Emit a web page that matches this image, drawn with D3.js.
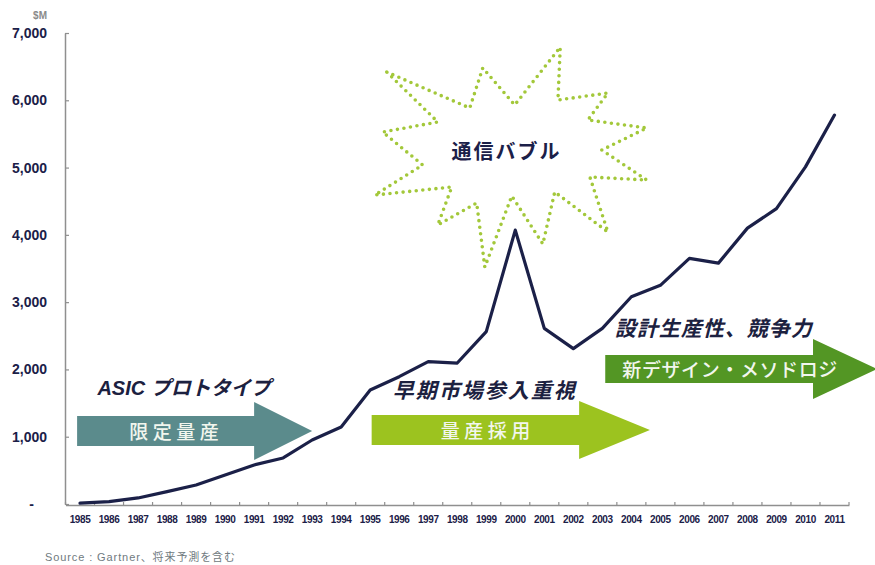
<!DOCTYPE html>
<html>
<head>
<meta charset="utf-8">
<script src="https://cdn.jsdelivr.net/npm/d3@7"></script>
<style>
  html, body { margin: 0; padding: 0; background: #ffffff; }
  svg { display: block; }
  text { font-family: "Liberation Sans", Arial, "Noto Sans CJK JP", sans-serif; }
  .jp { font-family: "Liberation Sans", Arial, "Noto Sans CJK JP", sans-serif; }
</style>
</head>
<body>
<svg id="chart" width="875" height="565"></svg>
<script>
// ASIC market size, $M, 1985-2011 (later years are forecasts)
const years = d3.range(1985, 2012);
const marketValues = [
  12, 35, 90, 183, 282, 431, 580, 684, 951, 1144,
  1694, 1892, 2115, 2095, 2561, 4070, 2610, 2310, 2610, 3080,
  3250, 3650, 3580, 4100, 4390, 5010, 5780
];
const yTicks = [0, 1000, 2000, 3000, 4000, 5000, 6000, 7000];
const unitLabel = "$M";
const sourceNote = "Source : Gartner、将来予測を含む";

// Phase arrows, positioned in (year, $M) units
const phaseFrom   = [1984.9, 1995.05, 2003.1];
const phaseHead   = [1991.0, 2002.2, 2010.26];
const phaseTip    = [1993.0, 2004.64, 2012.47];
const phaseLevel  = [1085, 1100, 2006];
const phaseNames  = ["限定量産", "量産採用", "新デザイン・メソドロジ"];
const phaseCaps   = ["ASIC プロトタイプ", "早期市場参入重視", "設計生産性、競争力"];
const capYear     = [1985.6, 1995.78, 2003.43];
const capLevel    = [1724, 1694, 2616];

// Burst outline around the 2000 peak, (year, $M) vertices
const burstYears = [1995.57, 1998.43, 1998.88, 1999.98, 2001.55, 2001.47, 2003.19, 2002.5,
  2004.53, 2002.98, 2004.53, 2002.57, 2003.19, 2001.36, 2000.95, 1999.88,
  1998.95, 1998.67, 1997.33, 1997.81, 1995.16, 1996.81, 1995.43, 1997.33];
const burstValues = [6420, 5885, 6480, 5930, 6790, 6004, 6108, 5707,
  5588, 5261, 4815, 4860, 4042, 4637, 3864, 4577,
  3522, 4473, 4146, 4711, 4592, 5038, 5528, 5677];
const burstLabel = "通信バブル";
const burstAt = [1999.7, 5231];

const svg = d3.select("#chart");
const navy = "#1b2048";

const x = d3.scaleBand().domain(years).range([65.5, 849]).padding(0);
const y = d3.scaleLinear().domain([0, 7000]).range([504, 33]);
const xAt = yr => x(1985) + x.bandwidth() / 2 + (yr - 1985) * x.step();

// Y axis
const yAxis = svg.append("g").attr("transform", "translate(65,0)")
  .call(d3.axisLeft(y).tickValues(yTicks)
    .tickFormat(d => d === 0 ? "-" : d3.format(",")(d))
    .tickSizeInner(-4).tickSizeOuter(0).tickPadding(18));
yAxis.select(".domain").attr("stroke", "#8f8f8f").attr("stroke-width", 1.5);
yAxis.selectAll(".tick line").attr("stroke", "#8f8f8f").attr("stroke-width", 1.2);
yAxis.selectAll(".tick text").attr("font-size", 14).attr("font-weight", "bold").attr("fill", navy);
yAxis.selectAll(".tick text").filter(d => d === 0).attr("dx", -13);

svg.append("text").attr("x", 47).attr("y", 19).attr("text-anchor", "end")
  .attr("font-size", 10).attr("font-weight", "bold").attr("fill", "#8a8a8a").text(unitLabel);

// X axis
const xAxis = svg.append("g").attr("transform", "translate(0,505)")
  .call(d3.axisBottom(x).tickSize(0).tickPadding(11));
xAxis.select(".domain").attr("stroke", "#8f8f8f").attr("stroke-width", 1.5);
xAxis.selectAll(".tick text").attr("font-size", 10).attr("font-weight", "bold")
  .attr("fill", navy).attr("letter-spacing", -0.4);
const bounds = years.map(d => x(d)).concat([x.range()[1]]);
xAxis.selectAll(".bound").data(bounds).join("line")
  .attr("x1", d => d).attr("x2", d => d).attr("y1", 0).attr("y2", -3)
  .attr("stroke", "#8f8f8f").attr("stroke-width", 1.2);

// Phase arrows
const arrowPath = i => {
  const x0 = xAt(phaseFrom[i]), xh = xAt(phaseHead[i]), xt = xAt(phaseTip[i]);
  const cy = y(phaseLevel[i]);
  const bh = i === 2 ? 14 : 15, hh = i === 2 ? 30 : 29;
  return `M${x0},${cy - bh}L${xh},${cy - bh}L${xh},${cy - hh}L${xt},${cy}L${xh},${cy + hh}L${xh},${cy + bh}L${x0},${cy + bh}Z`;
};
const phaseColors = ["#5b8b8c", "#9cc31f", "#539624"];
svg.append("g").selectAll("path").data(phaseNames).join("path")
  .attr("d", (d, i) => arrowPath(i)).attr("fill", (d, i) => phaseColors[i]);

// Market line
const line = d3.line()
  .x((d, i) => x(years[i]) + x.bandwidth() / 2)
  .y(d => y(d));
svg.append("path").datum(marketValues).attr("d", line)
  .attr("fill", "none").attr("stroke", navy).attr("stroke-width", 3.2)
  .attr("stroke-linejoin", "round").attr("stroke-linecap", "round");

// Burst outline
const burst = d3.line().x(d => xAt(d[0])).y(d => y(d[1])).curve(d3.curveLinearClosed);
svg.append("path").datum(burstYears.map((d, i) => [d, burstValues[i]]))
  .attr("d", burst).attr("fill", "none").attr("stroke", "#a3c83a")
  .attr("stroke-width", 3.6).attr("stroke-linecap", "round")
  .attr("stroke-dasharray", "0 6.6");
svg.append("text").attr("class", "jp").attr("x", xAt(burstAt[0])).attr("y", y(burstAt[1]))
  .attr("dy", "0.36em").attr("text-anchor", "middle")
  .attr("font-size", 20).attr("font-weight", "bold").attr("letter-spacing", 2)
  .attr("fill", navy).text(burstLabel);

// Arrow labels
const nameSpacing = [4.5, 4.5, 0.6];
svg.append("g").selectAll("text").data(phaseNames).join("text")
  .attr("class", "jp")
  .attr("x", (d, i) => {
    const x0 = xAt(phaseFrom[i]), xh = xAt(phaseHead[i]);
    return i === 2 ? (x0 + xh) / 2 + 21 : x0 + (xh - x0) * 0.56;
  })
  .attr("y", (d, i) => y(phaseLevel[i]) + 1)
  .attr("dy", "0.36em").attr("text-anchor", "middle")
  .attr("font-size", 19).attr("font-weight", 500)
  .attr("letter-spacing", (d, i) => nameSpacing[i])
  .attr("fill", "#f2f6ee").text(d => d);

// Phase captions
const capSize = [20, 21, 21], capSpacing = [0, 2, 1];
svg.append("g").selectAll("text").data(phaseCaps).join("text")
  .attr("class", "jp")
  .attr("x", (d, i) => xAt(capYear[i])).attr("y", (d, i) => y(capLevel[i]))
  .attr("dy", "0.36em")
  .attr("font-size", (d, i) => capSize[i]).attr("font-weight", "bold")
  .attr("font-style", "italic").attr("letter-spacing", (d, i) => capSpacing[i])
  .attr("fill", "#1c2140").text(d => d);

// Source note
svg.append("text").attr("class", "jp").attr("x", 45).attr("y", 561)
  .attr("font-size", 11).attr("letter-spacing", 0.9)
  .attr("fill", "#6f7a80").text(sourceNote);
</script>
</body>
</html>
